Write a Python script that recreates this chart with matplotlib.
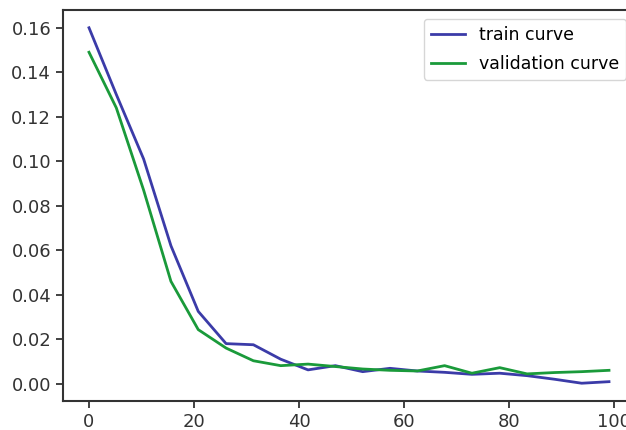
#################### Libraries
import matplotlib
matplotlib.use('Agg')
import matplotlib.pyplot as plt

#################### Data
epochs = [0, 5.2, 10.4, 15.6, 20.8, 26.1, 31.3, 36.5, 41.7, 46.9,
          52.1, 57.3, 62.5, 67.7, 72.9, 78.2, 83.4, 88.6, 93.8, 99]
train = [0.160, 0.130, 0.101, 0.062, 0.0325, 0.018, 0.0175, 0.011, 0.0062, 0.0081,
         0.0054, 0.0069, 0.0057, 0.0051, 0.0042, 0.0047, 0.0036, 0.0020, 0.0002, 0.0009]
valid = [0.149, 0.124, 0.087, 0.046, 0.0243, 0.016, 0.0103, 0.0081, 0.0088, 0.0077,
         0.0066, 0.0060, 0.0057, 0.0081, 0.0047, 0.0072, 0.0044, 0.0050, 0.0054, 0.0060]
labels = ['train curve', 'validation curve']

#################### Plot
plt.rcParams['font.size'] = 13
fig = plt.figure(figsize=(6.26, 4.30), dpi=100)
# right side of the axes is cut off in the reference
ax = fig.add_axes([63/626, 1-401/430, (635-63)/626, (401-10)/430])
ax.plot(epochs, train, color='#3b3ba8', lw=2, label=labels[0])
ax.plot(epochs, valid, color='#1a9a3a', lw=2, label=labels[1])
ax.set_xticks([0, 20, 40, 60, 80, 100])
ax.set_yticks([0.00, 0.02, 0.04, 0.06, 0.08, 0.10, 0.12, 0.14, 0.16])
ax.tick_params(length=5, width=1.3, colors='#333333')
for s in ax.spines.values():
    s.set_linewidth(1.5)
    s.set_color('#333333')
ax.legend(loc='upper right', fontsize=12.5, handlelength=2.0, labelspacing=0.65)
fig.savefig('out.png', dpi=100)
